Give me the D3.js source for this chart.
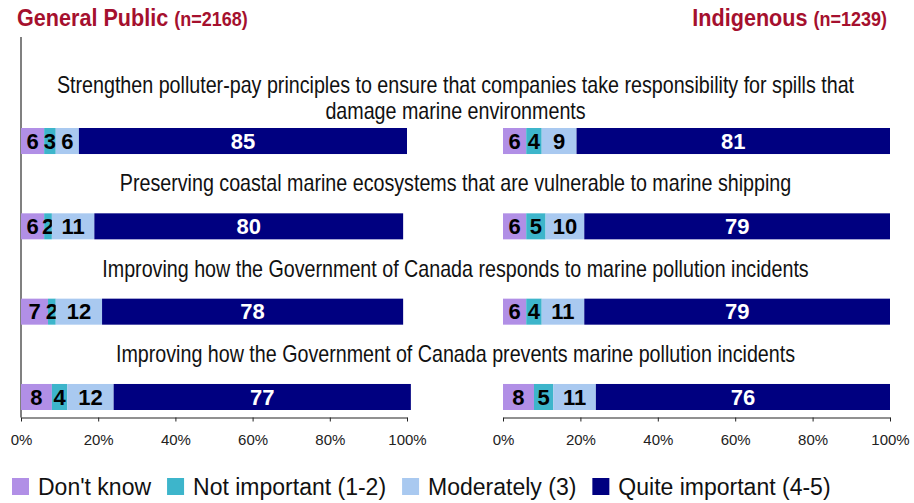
<!DOCTYPE html>
<html>
<head>
<meta charset="utf-8">
<script src="https://cdn.jsdelivr.net/npm/d3@7"></script>
<style>
  html, body { margin: 0; padding: 0; background: #fff; }
  svg { display: block; font-family: "Liberation Sans", Arial, sans-serif; }
</style>
</head>
<body>
<svg id="chart" width="914" height="503"></svg>
<script>
// Survey items (one bar per item in each panel)
const categories = [
  "Strengthen polluter-pay principles to ensure that companies take responsibility for spills that damage marine environments",
  "Preserving coastal marine ecosystems that are vulnerable to marine shipping",
  "Improving how the Government of Canada responds to marine pollution incidents",
  "Improving how the Government of Canada prevents marine pollution incidents"
];
// Item text as wrapped on screen
const categoryLines = [
  ["Strengthen polluter-pay principles to ensure that companies take responsibility for spills that", "damage marine environments"],
  ["Preserving coastal marine ecosystems that are vulnerable to marine shipping"],
  ["Improving how the Government of Canada responds to marine pollution incidents"],
  ["Improving how the Government of Canada prevents marine pollution incidents"]
];

const seriesNames = ["Don't know", "Not important (1-2)", "Moderately (3)", "Quite important (4-5)"];

// General Public (n=2168), percent
const gpDontKnow      = [6, 6, 7, 8];
const gpNotImportant  = [3, 2, 2, 4];
const gpModerately    = [6, 11, 12, 12];
const gpQuite         = [85, 80, 78, 77];

// Indigenous (n=1239), percent
const inDontKnow      = [6, 6, 6, 8];
const inNotImportant  = [4, 5, 4, 5];
const inModerately    = [9, 10, 11, 11];
const inQuite         = [81, 79, 79, 76];

const tickValues = [0, 20, 40, 60, 80, 100];

const colors = ["#B18FE6", "#3DB5CB", "#A9C9F0", "#000080"];
const labelColors = ["#000", "#000", "#000", "#fff"];
const titleColor = "#A5102E";

const svg = d3.select("#chart");

function rows(dk, ni, mo, qi) {
  return categories.map((c, i) => ({
    category: c,
    [seriesNames[0]]: dk[i],
    [seriesNames[1]]: ni[i],
    [seriesNames[2]]: mo[i],
    [seriesNames[3]]: qi[i]
  }));
}

const panels = [
  { title: "General Public", n: "(n=2168)", data: rows(gpDontKnow, gpNotImportant, gpModerately, gpQuite),
    range: [21, 407], titleX: 17, anchor: "start", leftLine: true },
  { title: "Indigenous", n: "(n=1239)", data: rows(inDontKnow, inNotImportant, inModerately, inQuite),
    range: [503, 890], titleX: 887, anchor: "end", leftLine: false }
];

const y = d3.scaleBand()
  .domain(categories)
  .range([128, 410])
  .paddingInner(0.695)
  .paddingOuter(0);

const axisY = 417.5;
const stack = d3.stack().keys(seriesNames);

panels.forEach(p => {
  const x = d3.scaleLinear().domain([0, 100]).range(p.range);
  const g = svg.append("g");

  if (p.leftLine) {
    g.append("line")
      .attr("x1", x(0)).attr("x2", x(0))
      .attr("y1", 37).attr("y2", axisY)
      .attr("stroke", "#808080").attr("stroke-width", 2);
  }

  const layers = stack(p.data);
  layers.forEach((layer, si) => {
    const lg = g.append("g");
    lg.selectAll("rect")
      .data(layer)
      .join("rect")
      .attr("x", d => x(d[0]))
      .attr("width", d => x(d[1]) - x(d[0]))
      .attr("y", d => y(d.data.category))
      .attr("height", y.bandwidth())
      .attr("fill", colors[si]);
    lg.selectAll("text")
      .data(layer)
      .join("text")
      .attr("x", d => (x(d[0]) + x(d[1])) / 2)
      .attr("y", d => y(d.data.category) + y.bandwidth() / 2 + 7.8)
      .attr("text-anchor", "middle")
      .attr("font-weight", "bold")
      .attr("font-size", 22)
      .attr("fill", labelColors[si])
      .text(d => d[1] - d[0]);
  });

  // x axis
  const axis = d3.axisBottom(x)
    .tickValues(tickValues)
    .tickFormat(d => d + "%")
    .tickSizeInner(4)
    .tickSizeOuter(0)
    .tickPadding(13);
  const ag = g.append("g")
    .attr("transform", `translate(0,${axisY})`)
    .call(axis);
  ag.select(".domain").attr("stroke", "#222");
  ag.selectAll(".tick line").attr("stroke", "#222");
  ag.selectAll(".tick text")
    .attr("font-size", 15)
    .attr("font-family", "Liberation Sans, Arial, sans-serif")
    .attr("fill", "#222");

  // panel title (slightly condensed bold)
  const t = svg.append("text")
    .attr("transform", `translate(${p.titleX},26) scale(0.9,1)`)
    .attr("text-anchor", p.anchor)
    .attr("fill", titleColor)
    .attr("font-weight", "bold");
  t.append("tspan").attr("font-size", 24).text(p.title + " ");
  t.append("tspan").attr("font-size", 20).text(p.n);
});

// item labels, centered across both panels (condensed face)
const labelCenter = (21 + 890) / 2;
const lineGap = 26;
const condense = 0.856;
categories.forEach((c, i) => {
  const lines = categoryLines[i];
  const mid = y(c) - 29;
  lines.forEach((ln, j) => {
    const baseline = mid + (j - (lines.length - 1) / 2) * lineGap + 7;
    svg.append("text")
      .attr("transform", `translate(${labelCenter},${baseline}) scale(${condense},1)`)
      .attr("text-anchor", "middle")
      .attr("font-size", 23)
      .attr("fill", "#111")
      .text(ln);
  });
});

// legend
const legend = svg.append("g").attr("transform", "translate(12,0)");
let lx = 0;
seriesNames.forEach((name, i) => {
  const item = legend.append("g").attr("transform", `translate(${lx},0)`);
  item.append("rect")
    .attr("x", 0).attr("y", 478)
    .attr("width", 17).attr("height", 17)
    .attr("fill", colors[i]);
  const txt = item.append("text")
    .attr("x", 26).attr("y", 495)
    .attr("font-size", 23)
    .attr("fill", "#111")
    .text(name);
  lx += 26 + txt.node().getComputedTextLength() + 16;
});
</script>
</body>
</html>
